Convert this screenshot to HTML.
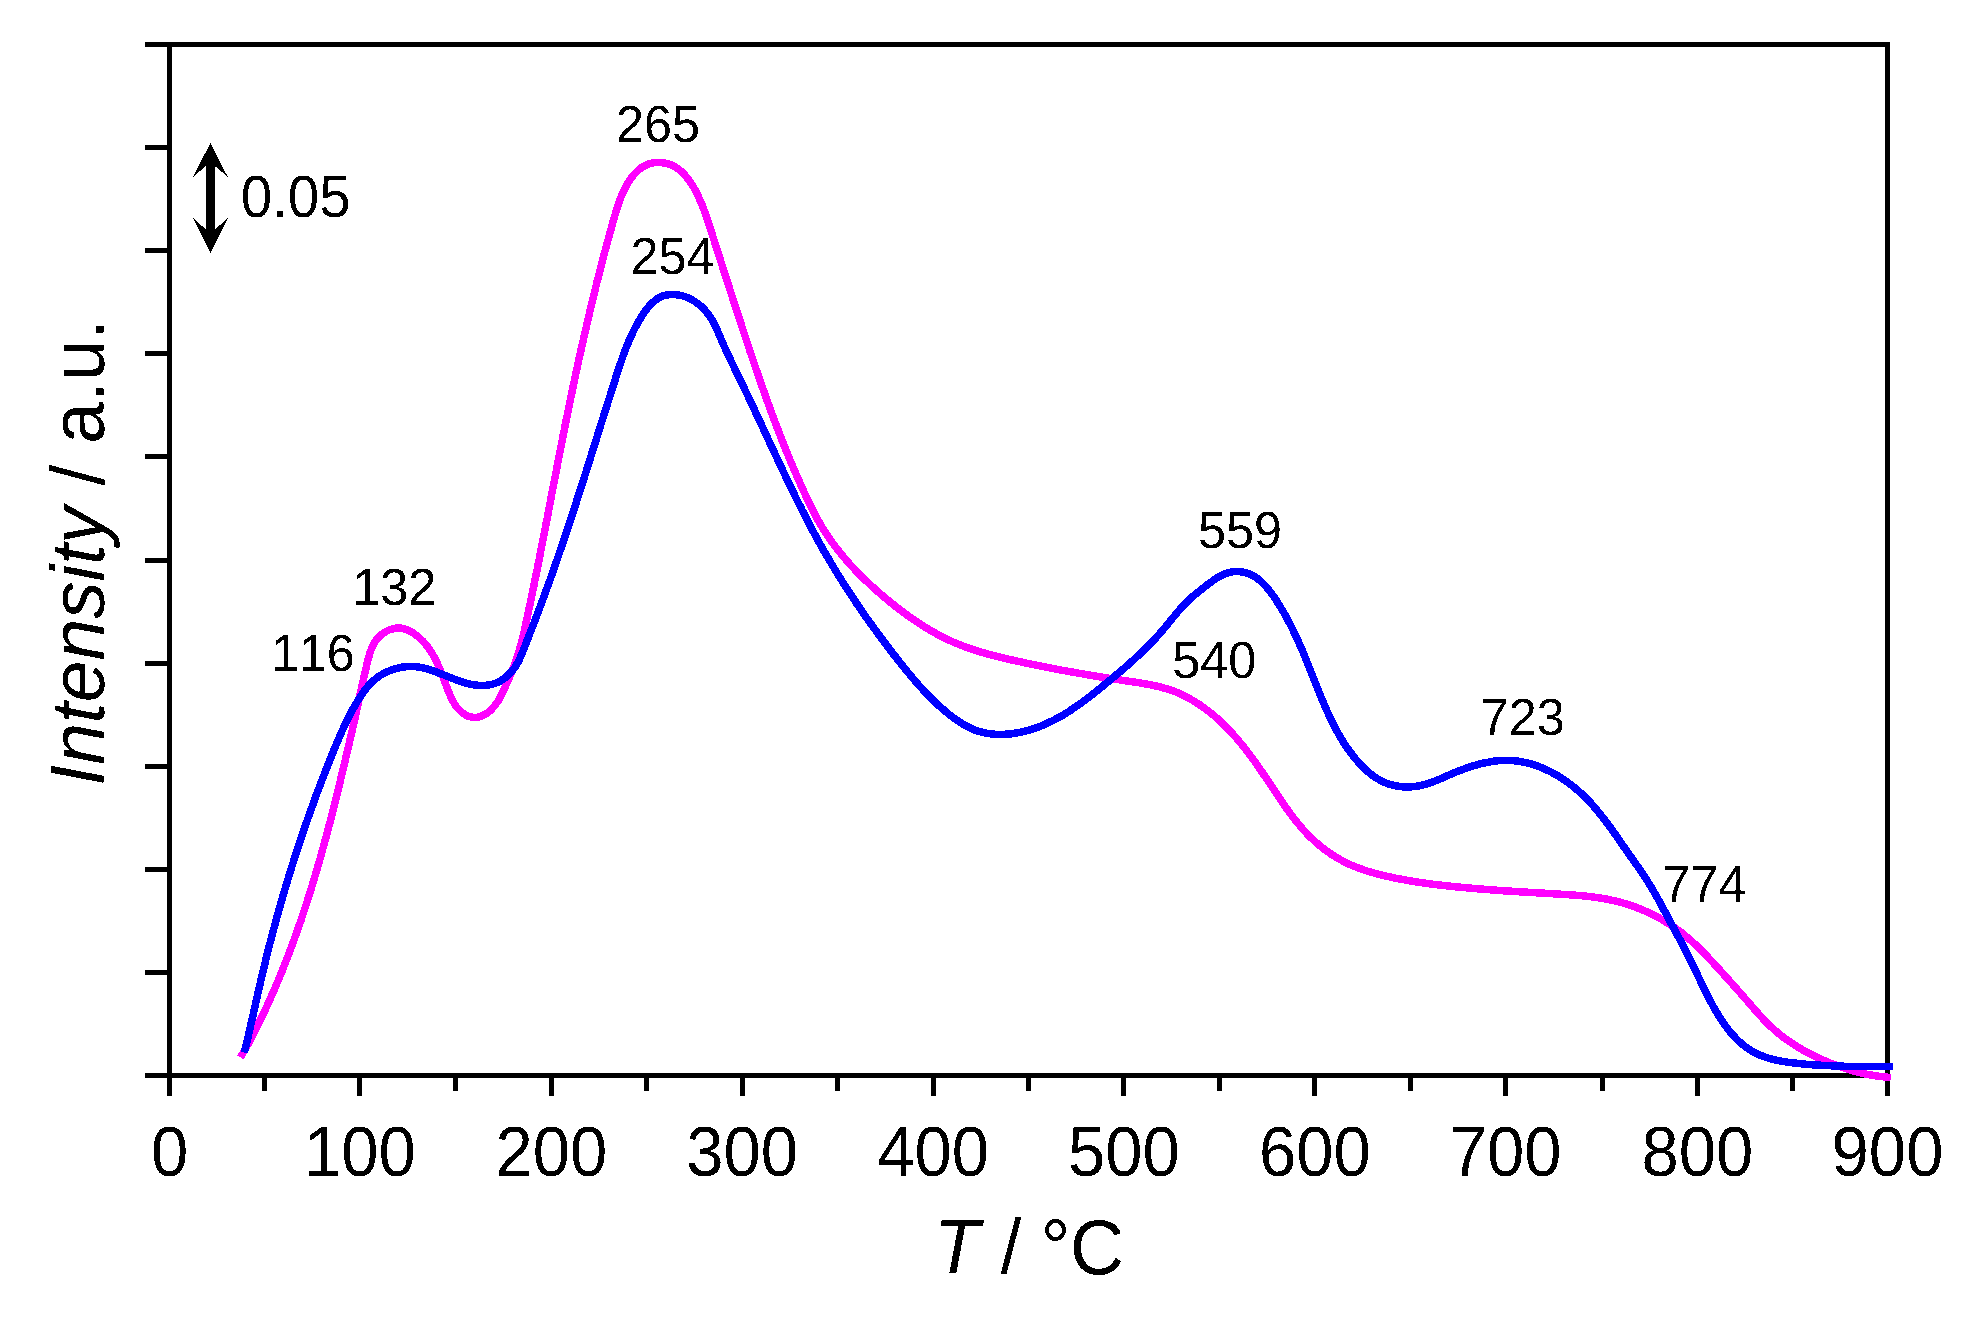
<!DOCTYPE html>
<html lang="en">
<head>
<meta charset="utf-8">
<title>TPD profile</title>
<style>
html,body{margin:0;padding:0;background:#fff;}
body{width:1979px;height:1328px;overflow:hidden;}
svg{display:block;}
</style>
</head>
<body>
<svg width="1979" height="1328" viewBox="0 0 1979 1328">
<defs><filter id="bin" x="-5%" y="-5%" width="110%" height="110%" color-interpolation-filters="sRGB"><feComponentTransfer><feFuncA type="discrete" tableValues="0 1"/></feComponentTransfer></filter></defs>
<rect width="1979" height="1328" fill="#fff"/>
<g fill="#000" shape-rendering="crispEdges">
<rect x="145" y="42" width="1745" height="5"/>
<rect x="145" y="1073" width="1745" height="5"/>
<rect x="167" y="42" width="5" height="1054"/>
<rect x="1885" y="42" width="5" height="1054"/>
<rect x="145" y="145" width="24" height="5"/>
<rect x="145" y="248" width="24" height="5"/>
<rect x="145" y="351" width="24" height="5"/>
<rect x="145" y="454" width="24" height="5"/>
<rect x="145" y="558" width="24" height="5"/>
<rect x="145" y="661" width="24" height="5"/>
<rect x="145" y="764" width="24" height="5"/>
<rect x="145" y="867" width="24" height="5"/>
<rect x="145" y="970" width="24" height="5"/>
<rect x="357" y="1075" width="5" height="21"/>
<rect x="549" y="1075" width="5" height="21"/>
<rect x="740" y="1075" width="5" height="21"/>
<rect x="931" y="1075" width="5" height="21"/>
<rect x="1121" y="1075" width="5" height="21"/>
<rect x="1312" y="1075" width="5" height="21"/>
<rect x="1503" y="1075" width="5" height="21"/>
<rect x="1695" y="1075" width="5" height="21"/>
<rect x="262" y="1075" width="5" height="16"/>
<rect x="453" y="1075" width="5" height="16"/>
<rect x="644" y="1075" width="5" height="16"/>
<rect x="835" y="1075" width="5" height="16"/>
<rect x="1026" y="1075" width="5" height="16"/>
<rect x="1217" y="1075" width="5" height="16"/>
<rect x="1408" y="1075" width="5" height="16"/>
<rect x="1600" y="1075" width="5" height="16"/>
<rect x="1790" y="1075" width="5" height="16"/>
</g>
<path d="M240.5 1057.4L241.8 1055.1L243.1 1052.8L244.5 1050.4L245.8 1048.1L247.1 1045.7L248.4 1043.4L249.6 1041.0L250.9 1038.7L252.2 1036.3L253.4 1033.9L254.6 1031.5L255.8 1029.2L257.0 1026.8L258.2 1024.4L259.4 1022.0L260.6 1019.6L261.7 1017.1L262.9 1014.7L264.0 1012.3L265.2 1009.9L266.3 1007.5L267.4 1005.0L268.5 1002.6L269.6 1000.1L270.7 997.7L271.8 995.2L272.9 992.8L274.0 990.3L275.0 987.9L276.1 985.4L277.1 982.9L278.2 980.5L279.2 978.0L280.2 975.5L281.2 973.0L282.3 970.5L283.3 968.0L284.2 965.6L285.2 963.1L286.2 960.6L287.2 958.1L288.2 955.5L289.1 953.0L290.1 950.5L291.0 948.0L292.0 945.5L292.9 943.0L293.8 940.5L294.7 937.9L295.6 935.4L296.5 932.9L297.4 930.3L298.3 927.8L299.2 925.3L300.1 922.7L301.0 920.2L301.8 917.6L302.7 915.1L303.5 912.6L304.4 910.0L305.2 907.5L306.0 904.9L306.9 902.4L307.7 899.8L308.5 897.2L309.3 894.7L310.1 892.1L310.9 889.6L311.7 887.0L312.5 884.4L313.3 881.9L314.0 879.3L314.8 876.7L315.6 874.2L316.3 871.6L317.1 869.0L317.8 866.4L318.6 863.9L319.3 861.3L320.1 858.7L320.8 856.1L321.5 853.5L322.2 851.0L322.9 848.4L323.7 845.8L324.4 843.2L325.1 840.6L325.8 838.0L326.5 835.4L327.2 832.9L327.8 830.3L328.5 827.7L329.2 825.1L329.9 822.5L330.6 819.9L331.2 817.3L331.9 814.7L332.6 812.1L333.2 809.5L333.9 806.9L334.5 804.3L335.2 801.7L335.8 799.1L336.5 796.5L337.1 793.9L337.8 791.3L338.4 788.7L339.0 786.1L339.7 783.5L340.3 780.9L340.9 778.3L341.5 775.7L342.2 773.0L342.8 770.4L343.4 767.8L344.0 765.2L344.7 762.6L345.3 760.0L345.9 757.4L346.5 754.8L347.1 752.2L347.7 749.5L348.4 746.9L349.0 744.3L349.6 741.7L350.2 739.1L350.8 736.5L351.4 733.9L352.0 731.2L352.6 728.6L353.2 726.0L353.8 723.4L354.4 720.8L355.0 718.2L355.6 715.6L356.1 712.9L356.7 710.3L357.3 707.7L357.9 705.1L358.4 702.5L359.0 699.9L359.6 697.2L360.1 694.6L360.7 692.0L361.2 689.4L361.8 686.8L362.4 684.2L362.9 681.6L363.5 678.9L364.1 676.3L364.7 673.7L365.3 671.1L365.9 668.5L366.5 665.9L367.1 663.4L367.7 661.0L368.3 658.6L369.0 656.2L369.7 653.8L370.5 651.2L371.5 648.7L372.5 646.3L373.7 643.9L375.1 641.6L376.7 639.5L378.3 637.6L380.1 635.8L382.1 634.1L384.1 632.7L386.3 631.4L388.5 630.2L391.0 629.3L393.6 628.6L396.1 628.1L398.7 628.0L401.3 628.2L403.8 628.7L406.3 629.5L408.8 630.6L411.0 631.7L413.2 633.0L415.2 634.5L417.3 636.0L419.2 637.7L421.0 639.4L422.8 641.1L424.6 643.1L426.3 645.2L428.0 647.3L429.5 649.5L431.0 651.7L432.4 654.0L433.8 656.4L435.0 658.7L436.3 661.1L437.4 663.5L438.5 666.0L439.6 668.4L440.6 670.9L441.6 673.3L442.6 675.8L443.5 678.2L444.4 680.7L445.3 683.2L446.3 685.7L447.1 688.0L448.0 690.4L449.0 692.8L450.0 695.1L451.0 697.5L452.1 699.8L453.4 702.0L454.7 704.2L456.1 706.3L457.7 708.3L459.4 710.1L461.2 711.8L463.2 713.4L465.4 714.8L467.8 716.0L470.2 716.8L472.7 717.3L475.3 717.5L478.0 717.2L480.4 716.6L482.8 715.6L485.2 714.3L487.3 712.9L489.3 711.4L491.2 709.6L492.9 707.8L494.6 705.8L496.1 703.8L497.6 701.7L498.9 699.6L500.1 697.4L501.3 695.2L502.4 692.9L503.5 690.6L504.5 688.3L505.6 686.0L506.6 683.7L507.6 681.4L508.7 679.0L509.8 676.5L510.8 674.1L511.9 671.6L512.9 669.1L513.9 666.7L514.8 664.2L515.7 661.7L516.6 659.1L517.4 656.6L518.2 654.1L519.0 651.5L519.7 648.9L520.4 646.4L521.1 643.8L521.8 641.2L522.4 638.6L523.0 636.0L523.7 633.4L524.3 630.8L524.8 628.2L525.4 625.5L526.0 622.9L526.6 620.3L527.1 617.7L527.7 615.0L528.3 612.4L528.8 609.8L529.4 607.2L529.9 604.5L530.5 601.9L531.0 599.3L531.6 596.7L532.1 594.0L532.7 591.4L533.2 588.8L533.8 586.1L534.3 583.5L534.8 580.9L535.4 578.3L535.9 575.6L536.4 573.0L537.0 570.4L537.5 567.7L538.0 565.1L538.5 562.5L539.1 559.8L539.6 557.2L540.1 554.6L540.6 551.9L541.1 549.3L541.6 546.7L542.2 544.0L542.7 541.4L543.2 538.8L543.7 536.1L544.2 533.5L544.7 530.8L545.2 528.2L545.7 525.6L546.2 522.9L546.8 520.3L547.3 517.7L547.8 515.0L548.3 512.4L548.8 509.8L549.3 507.1L549.8 504.5L550.3 501.9L550.8 499.2L551.3 496.6L551.8 493.9L552.3 491.3L552.8 488.7L553.3 486.0L553.8 483.4L554.3 480.8L554.9 478.1L555.4 475.5L555.9 472.9L556.4 470.2L556.9 467.6L557.4 465.0L557.9 462.3L558.4 459.7L558.9 457.1L559.4 454.4L559.9 451.8L560.5 449.2L561.0 446.5L561.5 443.9L562.0 441.3L562.5 438.6L563.0 436.0L563.6 433.4L564.1 430.8L564.6 428.1L565.1 425.5L565.7 422.9L566.2 420.2L566.7 417.6L567.3 415.0L567.8 412.4L568.3 409.7L568.9 407.1L569.4 404.5L569.9 401.8L570.5 399.2L571.0 396.6L571.6 394.0L572.1 391.4L572.7 388.7L573.2 386.1L573.8 383.5L574.3 380.9L574.9 378.2L575.4 375.6L576.0 373.0L576.6 370.4L577.1 367.8L577.7 365.1L578.3 362.5L578.8 359.9L579.4 357.3L580.0 354.7L580.6 352.1L581.1 349.4L581.7 346.8L582.3 344.2L582.9 341.6L583.5 339.0L584.1 336.4L584.7 333.7L585.3 331.1L585.9 328.5L586.5 325.9L587.1 323.3L587.7 320.7L588.3 318.1L588.9 315.5L589.5 312.9L590.1 310.2L590.8 307.6L591.4 305.0L592.0 302.4L592.6 299.8L593.3 297.2L593.9 294.6L594.6 292.0L595.2 289.4L595.8 286.8L596.5 284.2L597.1 281.6L597.8 279.0L598.5 276.4L599.1 273.8L599.8 271.2L600.4 268.6L601.1 266.0L601.8 263.4L602.5 260.8L603.1 258.2L603.8 255.6L604.5 253.0L605.2 250.4L605.9 247.8L606.6 245.2L607.3 242.6L608.0 240.0L608.7 237.4L609.4 234.8L610.1 232.2L610.9 229.6L611.6 227.0L612.3 224.4L613.0 221.9L613.8 219.3L614.5 216.9L615.2 214.3L616.0 211.7L616.8 209.1L617.6 206.6L618.4 204.0L619.3 201.5L620.2 199.0L621.2 196.5L622.3 194.0L623.3 191.6L624.5 189.2L625.7 186.9L627.0 184.5L628.4 182.2L629.9 180.0L631.4 177.9L632.9 175.9L634.5 174.0L636.4 172.1L638.3 170.2L640.3 168.5L642.5 167.0L644.7 165.7L647.1 164.6L649.6 163.7L652.2 163.0L654.7 162.6L657.2 162.4L659.7 162.5L662.3 162.7L664.8 163.1L667.3 163.7L669.7 164.4L672.2 165.4L674.5 166.6L676.7 168.0L678.9 169.5L680.9 171.2L682.8 173.0L684.7 174.9L686.4 176.9L688.1 179.0L689.6 181.0L691.0 183.1L692.4 185.3L693.7 187.4L694.9 189.6L696.1 191.9L697.2 194.1L698.3 196.4L699.4 198.8L700.5 201.3L701.6 203.7L702.6 206.2L703.5 208.7L704.5 211.2L705.4 213.7L706.3 216.3L707.1 218.8L708.0 221.3L708.8 223.9L709.6 226.4L710.4 229.0L711.3 231.5L712.1 234.0L712.9 236.6L713.7 239.1L714.5 241.7L715.3 244.3L716.2 246.8L717.0 249.4L717.8 251.9L718.6 254.5L719.4 257.0L720.3 259.6L721.1 262.1L721.9 264.7L722.7 267.2L723.5 269.8L724.4 272.3L725.2 274.9L726.0 277.5L726.8 280.0L727.6 282.6L728.5 285.1L729.3 287.7L730.1 290.2L730.9 292.8L731.8 295.4L732.6 297.9L733.4 300.5L734.3 303.0L735.1 305.6L735.9 308.1L736.7 310.7L737.6 313.2L738.4 315.8L739.2 318.3L740.1 320.9L740.9 323.5L741.7 326.0L742.6 328.6L743.4 331.1L744.2 333.7L745.1 336.2L745.9 338.7L746.8 341.3L747.6 343.8L748.5 346.4L749.3 348.9L750.1 351.5L751.0 354.0L751.9 356.6L752.7 359.1L753.6 361.6L754.4 364.2L755.3 366.7L756.1 369.3L757.0 371.8L757.9 374.3L758.8 376.9L759.6 379.4L760.5 381.9L761.4 384.5L762.3 387.0L763.2 389.5L764.1 392.0L765.0 394.6L765.9 397.1L766.8 399.6L767.7 402.1L768.6 404.6L769.5 407.2L770.4 409.7L771.3 412.2L772.3 414.7L773.2 417.2L774.1 419.7L775.1 422.2L776.0 424.7L777.0 427.2L778.0 429.7L778.9 432.2L779.9 434.7L780.9 437.2L781.8 439.7L782.8 442.2L783.8 444.7L784.8 447.2L785.8 449.7L786.8 452.2L787.8 454.7L788.9 457.1L789.9 459.6L790.9 462.1L792.0 464.6L793.0 467.0L794.1 469.5L795.1 472.0L796.2 474.4L797.3 476.9L798.4 479.4L799.5 481.8L800.6 484.3L801.7 486.7L802.8 489.2L803.8 491.5L804.9 493.7L805.9 496.0L807.0 498.3L808.1 500.5L809.1 502.8L810.2 505.0L811.3 507.3L812.4 509.5L813.5 511.8L814.7 514.0L815.9 516.4L817.2 518.7L818.5 521.1L819.9 523.4L821.2 525.7L822.6 528.0L824.0 530.3L825.5 532.5L826.9 534.8L828.4 537.0L829.9 539.2L831.5 541.4L833.0 543.5L834.6 545.7L836.2 547.8L837.9 549.9L839.5 552.0L841.2 554.1L842.9 556.1L844.6 558.2L846.4 560.2L848.1 562.2L849.9 564.2L851.7 566.2L853.6 568.2L855.4 570.1L857.2 572.0L859.1 574.0L861.0 575.9L862.9 577.7L864.8 579.6L866.8 581.5L868.7 583.3L870.7 585.2L872.7 587.0L874.5 588.7L876.4 590.3L878.3 592.0L880.2 593.6L882.1 595.3L884.0 596.9L885.9 598.5L887.8 600.1L889.8 601.7L891.7 603.3L893.7 604.8L895.6 606.4L897.6 607.9L899.6 609.5L901.6 611.0L903.6 612.5L905.6 614.0L907.6 615.4L909.7 616.9L911.7 618.3L913.9 619.9L916.1 621.4L918.4 622.9L920.6 624.3L922.9 625.8L925.2 627.2L927.5 628.6L929.8 630.0L932.1 631.3L934.4 632.6L936.7 633.9L939.1 635.2L941.5 636.4L943.8 637.6L946.2 638.8L948.6 640.0L951.1 641.1L953.5 642.2L956.0 643.2L958.4 644.2L960.9 645.2L963.4 646.2L965.9 647.1L968.4 648.0L970.9 648.9L973.5 649.7L976.0 650.5L978.6 651.3L981.1 652.1L983.7 652.9L986.3 653.6L988.9 654.3L991.5 655.0L994.1 655.7L996.7 656.3L999.3 657.0L1001.9 657.6L1004.5 658.3L1007.2 658.9L1009.8 659.5L1012.4 660.1L1015.0 660.7L1017.6 661.2L1020.3 661.8L1022.9 662.4L1025.5 663.0L1028.1 663.5L1030.8 664.1L1033.4 664.6L1036.0 665.2L1038.7 665.7L1041.3 666.2L1043.9 666.7L1046.5 667.3L1049.2 667.8L1051.8 668.3L1054.4 668.8L1057.1 669.3L1059.7 669.8L1062.3 670.3L1065.0 670.7L1067.6 671.2L1070.2 671.7L1072.9 672.2L1075.5 672.6L1078.1 673.1L1080.8 673.6L1083.4 674.0L1086.1 674.5L1088.7 674.9L1091.4 675.4L1094.0 675.8L1096.6 676.2L1099.3 676.7L1101.9 677.1L1104.6 677.5L1107.2 677.9L1109.9 678.4L1112.5 678.8L1115.2 679.2L1117.8 679.6L1120.5 680.0L1123.1 680.4L1125.8 680.8L1128.5 681.2L1131.1 681.6L1133.8 682.0L1136.4 682.4L1139.1 682.8L1141.7 683.3L1144.4 683.7L1147.0 684.2L1149.7 684.7L1152.3 685.2L1154.9 685.8L1157.5 686.3L1160.1 687.0L1162.7 687.7L1165.3 688.4L1167.8 689.2L1170.4 690.0L1172.9 690.9L1175.4 691.8L1177.9 692.9L1180.3 693.9L1182.6 695.0L1184.9 696.1L1187.1 697.3L1189.3 698.4L1191.5 699.7L1193.7 701.0L1195.8 702.3L1197.9 703.6L1200.0 705.0L1202.1 706.5L1204.1 707.9L1206.1 709.4L1208.3 711.0L1210.4 712.7L1212.5 714.4L1214.5 716.1L1216.5 717.8L1218.5 719.6L1220.5 721.4L1222.4 723.3L1224.3 725.1L1226.2 727.0L1228.1 728.9L1229.9 730.8L1231.7 732.8L1233.5 734.8L1235.3 736.7L1237.0 738.8L1238.7 740.8L1240.4 742.9L1242.1 744.9L1243.8 747.0L1245.4 749.1L1247.1 751.2L1248.7 753.4L1250.3 755.5L1251.9 757.7L1253.5 759.8L1255.1 762.0L1256.5 764.1L1258.0 766.1L1259.4 768.2L1260.8 770.2L1262.2 772.3L1263.6 774.4L1265.0 776.4L1266.4 778.5L1267.8 780.6L1269.2 782.7L1270.6 784.8L1272.0 786.9L1273.4 789.0L1274.8 791.1L1276.2 793.2L1277.6 795.3L1279.0 797.3L1280.4 799.4L1281.8 801.5L1283.2 803.6L1284.6 805.6L1286.2 807.8L1287.7 810.0L1289.3 812.2L1290.9 814.3L1292.5 816.5L1294.1 818.6L1295.8 820.7L1297.5 822.8L1299.2 824.8L1300.9 826.9L1302.6 828.9L1304.4 830.9L1306.2 832.8L1308.0 834.8L1309.9 836.6L1311.8 838.5L1313.7 840.3L1315.7 842.1L1317.7 843.9L1319.7 845.6L1321.8 847.3L1323.9 848.9L1326.0 850.5L1328.2 852.1L1330.4 853.6L1332.5 855.0L1334.7 856.3L1336.8 857.6L1339.0 858.9L1341.1 860.1L1343.4 861.3L1345.6 862.4L1347.8 863.5L1350.1 864.6L1352.6 865.7L1355.1 866.7L1357.6 867.7L1360.1 868.6L1362.6 869.5L1365.1 870.4L1367.7 871.2L1370.3 872.0L1372.8 872.7L1375.4 873.4L1378.0 874.1L1380.6 874.8L1383.2 875.4L1385.8 876.0L1388.5 876.6L1391.1 877.2L1393.7 877.8L1396.3 878.3L1399.0 878.8L1401.6 879.3L1404.2 879.8L1406.9 880.3L1409.5 880.8L1412.1 881.2L1414.8 881.6L1417.4 882.1L1420.1 882.5L1422.8 882.8L1425.4 883.2L1428.1 883.6L1430.7 883.9L1433.4 884.3L1436.0 884.6L1438.7 884.9L1441.4 885.2L1444.0 885.5L1446.7 885.8L1449.4 886.1L1452.0 886.4L1454.7 886.7L1457.4 886.9L1460.0 887.2L1462.7 887.4L1465.4 887.7L1468.1 887.9L1470.7 888.2L1473.4 888.4L1476.1 888.6L1478.7 888.9L1481.4 889.1L1484.1 889.3L1486.7 889.5L1489.4 889.7L1492.1 889.9L1494.8 890.1L1497.4 890.3L1500.1 890.5L1502.8 890.7L1505.4 890.9L1508.1 891.0L1510.8 891.2L1513.5 891.4L1516.1 891.6L1518.8 891.7L1521.5 891.9L1524.2 892.1L1526.9 892.2L1529.5 892.4L1532.2 892.5L1534.9 892.7L1537.6 892.9L1540.3 893.0L1542.9 893.2L1545.6 893.3L1548.3 893.5L1551.0 893.6L1553.7 893.8L1556.4 894.0L1559.0 894.1L1561.7 894.3L1564.4 894.4L1567.1 894.6L1569.8 894.8L1572.5 895.0L1575.1 895.2L1577.8 895.4L1580.5 895.6L1583.2 895.9L1585.8 896.2L1588.5 896.5L1591.2 896.8L1593.8 897.1L1596.5 897.5L1599.1 897.9L1601.8 898.3L1604.4 898.7L1607.0 899.2L1609.6 899.7L1612.2 900.3L1614.8 900.9L1617.4 901.5L1620.0 902.2L1622.6 902.9L1625.2 903.6L1627.7 904.4L1630.3 905.2L1632.8 906.1L1635.3 907.0L1637.8 908.0L1640.3 909.0L1642.8 910.0L1645.3 911.1L1647.7 912.2L1650.1 913.3L1652.6 914.5L1655.0 915.7L1657.3 917.0L1659.7 918.3L1662.0 919.6L1664.4 921.0L1666.6 922.4L1668.9 923.8L1671.2 925.3L1673.4 926.8L1675.6 928.3L1677.8 929.9L1679.9 931.5L1682.1 933.1L1684.2 934.8L1686.2 936.5L1688.3 938.2L1690.3 940.0L1692.3 941.8L1694.3 943.6L1696.2 945.4L1698.2 947.3L1700.1 949.2L1702.0 951.1L1703.9 953.0L1705.7 954.9L1707.6 956.8L1709.4 958.8L1711.3 960.8L1713.1 962.7L1714.9 964.7L1716.7 966.7L1718.5 968.6L1720.3 970.6L1722.1 972.6L1723.9 974.6L1725.7 976.6L1727.5 978.6L1729.3 980.6L1731.1 982.6L1732.9 984.6L1734.7 986.6L1736.5 988.6L1738.2 990.6L1740.0 992.6L1741.8 994.7L1743.5 996.7L1745.3 998.7L1747.1 1000.7L1748.8 1002.8L1750.6 1004.8L1752.3 1006.8L1754.1 1008.8L1755.9 1010.9L1757.7 1012.9L1759.4 1014.9L1761.3 1016.8L1763.1 1018.8L1764.9 1020.7L1766.8 1022.6L1768.7 1024.5L1770.6 1026.4L1772.6 1028.2L1774.6 1030.0L1776.6 1031.7L1778.6 1033.5L1780.7 1035.1L1782.8 1036.8L1784.9 1038.4L1787.1 1040.0L1789.3 1041.5L1791.5 1043.0L1793.8 1044.5L1796.0 1045.9L1798.3 1047.3L1800.6 1048.7L1803.0 1050.1L1805.1 1051.3L1807.3 1052.5L1809.6 1053.6L1811.8 1054.8L1814.0 1055.9L1816.3 1057.0L1818.6 1058.0L1820.8 1059.1L1823.1 1060.1L1825.6 1061.1L1828.1 1062.2L1830.6 1063.2L1833.1 1064.1L1835.6 1065.1L1838.1 1066.0L1840.6 1066.9L1843.2 1067.7L1845.7 1068.6L1848.2 1069.4L1850.8 1070.1L1853.3 1070.9L1855.9 1071.6L1858.5 1072.3L1861.1 1072.9L1863.7 1073.5L1866.3 1074.1L1868.9 1074.6L1871.5 1075.1L1874.2 1075.5L1876.8 1076.0L1879.5 1076.3L1882.0 1076.7L1884.5 1076.9L1887.0 1077.2L1889.5 1077.4L1890.7 1077.5" fill="none" stroke="#ff00ff" stroke-width="7.5" stroke-linecap="butt" stroke-linejoin="round" shape-rendering="crispEdges"/>
<path d="M244.4 1052.5L245.0 1050.0L245.6 1047.5L246.2 1045.0L246.8 1042.5L247.4 1040.0L248.0 1037.4L248.6 1034.9L249.1 1032.4L249.7 1029.9L250.3 1027.4L250.8 1024.9L251.4 1022.3L252.0 1019.8L252.5 1017.3L253.1 1014.8L253.7 1012.3L254.2 1009.7L254.8 1007.2L255.3 1004.7L255.9 1002.2L256.5 999.6L257.0 997.1L257.6 994.6L258.2 992.1L258.7 989.5L259.3 987.0L259.9 984.5L260.5 982.0L261.1 979.5L261.7 976.9L262.3 974.4L262.8 971.9L263.5 969.4L264.1 966.9L264.7 964.4L265.3 961.9L265.9 959.4L266.5 956.9L267.1 954.4L267.8 951.8L268.4 949.3L269.0 946.8L269.7 944.3L270.3 941.8L271.0 939.4L271.6 936.9L272.3 934.4L272.9 931.9L273.6 929.4L274.3 926.9L275.0 924.4L275.6 921.9L276.3 919.4L277.0 916.9L277.7 914.5L278.4 912.0L279.1 909.5L279.8 907.0L280.5 904.5L281.2 902.0L281.9 899.6L282.6 897.1L283.3 894.6L284.1 892.2L284.8 889.7L285.5 887.2L286.3 884.7L287.0 882.3L287.8 879.8L288.5 877.3L289.3 874.9L290.0 872.4L290.8 869.9L291.6 867.5L292.3 865.0L293.1 862.6L293.9 860.1L294.7 857.7L295.5 855.2L296.3 852.8L297.1 850.3L297.9 847.9L298.7 845.4L299.5 843.0L300.3 840.5L301.1 838.1L301.9 835.6L302.8 833.2L303.6 830.7L304.4 828.3L305.3 825.9L306.1 823.4L307.0 821.0L307.8 818.5L308.7 816.1L309.6 813.7L310.4 811.2L311.3 808.8L312.2 806.4L313.1 803.9L313.9 801.5L314.8 799.1L315.7 796.7L316.6 794.2L317.5 791.8L318.4 789.4L319.4 787.0L320.3 784.6L321.2 782.1L322.1 779.7L323.1 777.3L324.0 774.9L324.9 772.5L325.9 770.1L326.8 767.7L327.8 765.3L328.8 762.8L329.7 760.4L330.7 758.0L331.7 755.6L332.6 753.2L333.6 750.8L334.6 748.4L335.6 746.0L336.6 743.6L337.6 741.2L338.6 738.9L339.7 736.5L340.7 734.1L341.7 731.7L342.8 729.4L343.9 727.0L345.0 724.7L346.1 722.3L347.2 720.0L348.4 717.7L349.5 715.4L350.7 713.1L351.9 710.9L353.2 708.6L354.4 706.4L355.7 704.2L357.0 702.0L358.3 699.8L359.7 697.6L361.1 695.5L362.5 693.4L364.0 691.3L365.5 689.3L367.1 687.3L368.7 685.4L370.5 683.5L372.3 681.7L374.2 680.0L376.2 678.4L378.3 676.8L380.4 675.4L382.7 674.0L385.0 672.8L387.4 671.6L389.9 670.6L392.4 669.7L394.9 668.9L397.5 668.2L400.1 667.6L402.6 667.1L405.2 666.8L407.8 666.6L410.4 666.5L412.9 666.6L415.5 666.7L418.0 667.0L420.5 667.4L422.9 667.9L425.4 668.5L427.8 669.2L430.3 669.9L432.7 670.7L435.1 671.6L437.5 672.5L439.9 673.4L442.3 674.4L444.8 675.3L447.2 676.3L449.6 677.3L452.0 678.3L454.4 679.2L456.9 680.1L459.3 681.0L461.8 681.8L464.3 682.6L466.8 683.3L469.3 683.9L471.8 684.4L474.4 684.9L476.9 685.2L479.5 685.4L482.0 685.5L484.5 685.4L487.0 685.2L489.6 684.8L492.2 684.3L494.6 683.5L497.0 682.6L499.3 681.5L501.6 680.1L503.8 678.7L505.9 677.0L507.8 675.4L509.6 673.6L511.3 671.8L513.1 669.7L514.7 667.6L516.1 665.4L517.5 663.2L518.7 660.9L519.8 658.6L520.8 656.3L521.8 654.0L522.8 651.6L523.7 649.3L524.6 646.9L525.6 644.5L526.5 642.2L527.4 639.8L528.4 637.4L529.3 635.0L530.2 632.6L531.2 630.2L532.1 627.8L533.0 625.4L534.0 623.0L534.9 620.6L535.8 618.2L536.7 615.8L537.6 613.3L538.6 610.9L539.5 608.5L540.4 606.1L541.3 603.7L542.2 601.2L543.1 598.8L544.0 596.4L544.9 594.0L545.8 591.5L546.6 589.1L547.5 586.7L548.4 584.2L549.3 581.8L550.2 579.4L551.0 576.9L551.9 574.5L552.7 572.1L553.6 569.6L554.5 567.2L555.3 564.7L556.2 562.3L557.0 559.9L557.9 557.4L558.7 555.0L559.5 552.5L560.4 550.1L561.2 547.6L562.0 545.2L562.9 542.7L563.7 540.3L564.5 537.9L565.3 535.4L566.2 533.0L567.0 530.5L567.8 528.1L568.6 525.6L569.4 523.1L570.2 520.7L571.0 518.2L571.8 515.8L572.7 513.3L573.5 510.9L574.3 508.4L575.1 506.0L575.9 503.5L576.6 501.1L577.4 498.6L578.2 496.1L579.0 493.7L579.8 491.2L580.6 488.8L581.4 486.3L582.2 483.9L583.0 481.4L583.8 478.9L584.5 476.5L585.3 474.0L586.1 471.6L586.9 469.1L587.7 466.6L588.4 464.2L589.2 461.7L590.0 459.3L590.8 456.8L591.5 454.3L592.3 451.9L593.1 449.4L593.9 447.0L594.6 444.5L595.4 442.0L596.2 439.6L597.0 437.1L597.7 434.7L598.5 432.2L599.3 429.7L600.1 427.3L600.8 424.8L601.6 422.3L602.4 419.9L603.2 417.4L603.9 415.0L604.7 412.5L605.5 410.0L606.3 407.6L607.1 405.1L607.8 402.7L608.6 400.2L609.4 397.8L610.2 395.3L610.9 392.8L611.7 390.4L612.5 387.9L613.3 385.5L614.1 383.0L614.9 380.6L615.6 378.1L616.4 375.6L617.2 373.2L618.0 370.7L618.8 368.3L619.6 365.8L620.5 363.4L621.3 361.0L622.2 358.5L623.0 356.1L623.9 353.7L624.8 351.3L625.7 348.9L626.7 346.5L627.7 344.1L628.6 341.7L629.7 339.3L630.7 337.0L631.8 334.6L632.9 332.3L634.0 330.0L635.2 327.7L636.4 325.4L637.7 323.1L639.0 320.8L640.3 318.6L641.7 316.3L643.1 314.1L644.6 312.0L646.1 309.9L647.7 307.8L649.4 305.9L651.2 304.0L653.0 302.2L654.9 300.6L656.9 299.0L659.0 297.7L661.3 296.6L663.6 295.7L666.1 295.1L668.7 294.7L671.3 294.5L673.9 294.5L676.5 294.8L679.2 295.2L681.8 295.7L684.3 296.4L686.8 297.3L689.2 298.3L691.5 299.5L693.7 300.8L695.8 302.2L697.9 303.7L699.9 305.3L701.8 307.0L703.6 308.8L705.4 310.7L707.0 312.7L708.6 314.7L710.1 316.8L711.5 319.0L712.8 321.2L714.0 323.5L715.2 325.8L716.3 328.1L717.4 330.5L718.4 332.9L719.4 335.2L720.4 337.6L721.5 340.0L722.5 342.4L723.5 344.8L724.6 347.1L725.7 349.5L726.7 351.8L727.8 354.2L728.9 356.5L730.0 358.8L731.1 361.1L732.2 363.5L733.4 365.8L734.5 368.1L735.6 370.4L736.8 372.7L737.9 375.0L739.0 377.4L740.1 379.7L741.3 382.0L742.4 384.3L743.5 386.6L744.6 389.0L745.7 391.3L746.8 393.6L747.9 395.9L749.0 398.3L750.1 400.6L751.3 402.9L752.3 405.3L753.4 407.6L754.5 409.9L755.6 412.3L756.7 414.6L757.8 417.0L758.9 419.3L760.0 421.7L761.1 424.0L762.2 426.3L763.3 428.7L764.4 431.0L765.4 433.4L766.5 435.7L767.6 438.1L768.7 440.4L769.8 442.8L770.9 445.1L772.0 447.4L773.1 449.8L774.2 452.1L775.3 454.5L776.4 456.8L777.5 459.2L778.6 461.5L779.7 463.8L780.8 466.2L781.9 468.5L783.0 470.9L784.1 473.2L785.2 475.5L786.3 477.9L787.4 480.2L788.5 482.5L789.6 484.8L790.8 487.2L791.9 489.5L793.0 491.8L794.2 494.1L795.3 496.5L796.4 498.8L797.6 501.1L798.7 503.4L799.9 505.7L801.1 508.0L802.2 510.3L803.4 512.6L804.6 514.9L805.7 517.2L806.9 519.5L808.1 521.8L809.3 524.1L810.5 526.4L811.7 528.6L812.9 530.9L814.1 533.2L815.4 535.4L816.6 537.7L817.8 540.0L819.1 542.2L820.3 544.5L821.6 546.7L822.8 549.0L824.1 551.2L825.4 553.4L826.7 555.7L828.0 557.9L829.3 560.1L830.6 562.3L831.9 564.5L833.2 566.7L834.5 568.9L835.9 571.1L837.2 573.3L838.6 575.5L839.9 577.7L841.3 579.9L842.7 582.1L844.1 584.2L845.4 586.4L846.8 588.6L848.2 590.7L849.7 592.9L851.1 595.1L852.5 597.2L853.9 599.4L855.4 601.5L856.8 603.7L858.3 605.8L859.7 607.9L861.2 610.1L862.7 612.2L864.2 614.3L865.6 616.5L867.1 618.6L868.6 620.7L870.1 622.8L871.7 624.9L873.2 627.0L874.7 629.1L876.2 631.2L877.7 633.3L879.3 635.4L880.8 637.5L882.4 639.6L883.9 641.6L885.5 643.7L887.0 645.8L888.6 647.8L890.2 649.9L891.7 651.9L893.3 654.0L894.9 656.0L896.5 658.0L898.1 660.1L899.7 662.1L901.2 664.1L902.8 666.1L904.5 668.1L906.1 670.1L907.7 672.1L909.3 674.0L911.0 676.0L912.6 678.0L914.3 679.9L915.9 681.9L917.6 683.8L919.3 685.7L921.0 687.6L922.8 689.5L924.5 691.4L926.3 693.2L928.1 695.1L929.9 696.9L931.7 698.7L933.5 700.5L935.4 702.3L937.3 704.1L939.2 705.9L941.1 707.6L943.1 709.3L945.1 711.0L947.1 712.7L949.1 714.4L951.2 716.0L953.3 717.6L955.4 719.2L957.6 720.7L959.8 722.2L962.0 723.6L964.2 724.9L966.5 726.2L968.8 727.3L971.1 728.4L973.5 729.5L975.8 730.4L978.3 731.2L980.7 731.9L983.2 732.5L985.7 733.1L988.2 733.5L990.7 733.9L993.2 734.1L995.8 734.3L998.4 734.4L1000.9 734.4L1003.5 734.4L1006.1 734.2L1008.7 734.0L1011.2 733.8L1013.8 733.4L1016.4 733.0L1018.9 732.5L1021.5 732.0L1024.0 731.4L1026.5 730.8L1029.0 730.1L1031.5 729.4L1033.9 728.6L1036.4 727.7L1038.8 726.8L1041.2 725.9L1043.5 724.9L1045.9 723.9L1048.2 722.8L1050.5 721.7L1052.8 720.6L1055.1 719.4L1057.4 718.2L1059.6 717.0L1061.9 715.7L1064.1 714.4L1066.3 713.0L1068.5 711.7L1070.6 710.3L1072.8 708.8L1074.9 707.4L1077.1 705.9L1079.2 704.4L1081.3 702.9L1083.4 701.4L1085.5 699.8L1087.5 698.3L1089.6 696.7L1091.7 695.1L1093.7 693.5L1095.8 691.9L1097.8 690.2L1099.8 688.6L1101.8 686.9L1103.8 685.3L1105.8 683.6L1107.8 682.0L1109.8 680.3L1111.8 678.7L1113.8 677.0L1115.8 675.3L1117.7 673.7L1119.7 672.0L1121.7 670.3L1123.6 668.7L1125.6 667.0L1127.5 665.3L1129.4 663.6L1131.3 661.9L1133.2 660.2L1135.1 658.5L1137.0 656.7L1138.9 655.0L1140.8 653.3L1142.6 651.5L1144.5 649.7L1146.3 647.9L1148.1 646.1L1149.9 644.3L1151.7 642.4L1153.4 640.5L1155.2 638.7L1156.9 636.7L1158.7 634.8L1160.4 632.9L1162.1 630.9L1163.7 628.9L1165.4 626.9L1167.1 624.9L1168.7 622.8L1170.4 620.8L1172.0 618.8L1173.7 616.8L1175.3 614.8L1177.0 612.8L1178.7 610.8L1180.4 608.9L1182.1 607.0L1183.9 605.1L1185.6 603.2L1187.4 601.4L1189.2 599.7L1191.1 598.0L1193.0 596.3L1194.9 594.7L1196.8 593.1L1198.8 591.5L1200.8 589.9L1202.8 588.3L1204.9 586.7L1207.0 585.1L1209.1 583.4L1211.3 581.9L1213.5 580.3L1215.7 578.8L1217.9 577.4L1220.2 576.1L1222.6 574.9L1224.9 573.9L1227.3 573.0L1229.8 572.3L1232.3 571.8L1234.9 571.6L1237.4 571.5L1240.0 571.7L1242.5 572.0L1245.0 572.6L1247.5 573.3L1249.8 574.2L1252.2 575.3L1254.5 576.6L1256.6 578.0L1258.6 579.5L1260.6 581.2L1262.5 582.9L1264.3 584.7L1266.0 586.6L1267.8 588.6L1269.4 590.7L1271.0 592.8L1272.6 594.9L1274.1 597.1L1275.6 599.3L1277.0 601.6L1278.5 603.8L1279.9 606.0L1281.2 608.3L1282.6 610.5L1283.9 612.8L1285.2 615.0L1286.4 617.3L1287.7 619.6L1288.9 621.9L1290.1 624.2L1291.2 626.5L1292.4 628.8L1293.5 631.1L1294.6 633.4L1295.7 635.7L1296.8 638.1L1297.9 640.4L1298.9 642.7L1299.9 645.1L1301.0 647.4L1302.0 649.8L1303.0 652.1L1304.0 654.5L1304.9 656.9L1305.9 659.2L1306.9 661.6L1307.8 664.0L1308.8 666.4L1309.7 668.8L1310.7 671.1L1311.6 673.5L1312.6 675.9L1313.5 678.3L1314.5 680.7L1315.4 683.1L1316.4 685.5L1317.3 687.9L1318.3 690.3L1319.3 692.7L1320.3 695.1L1321.2 697.5L1322.2 699.9L1323.2 702.3L1324.3 704.7L1325.3 707.1L1326.3 709.5L1327.4 711.8L1328.5 714.2L1329.6 716.5L1330.7 718.9L1331.8 721.2L1332.9 723.5L1334.1 725.8L1335.3 728.1L1336.5 730.3L1337.8 732.6L1339.0 734.8L1340.3 737.1L1341.7 739.3L1343.0 741.5L1344.4 743.6L1345.8 745.8L1347.2 747.9L1348.7 750.0L1350.2 752.1L1351.8 754.1L1353.4 756.2L1355.0 758.2L1356.6 760.2L1358.3 762.1L1360.1 764.1L1361.9 765.9L1363.7 767.8L1365.6 769.6L1367.5 771.3L1369.5 773.0L1371.5 774.6L1373.5 776.1L1375.7 777.6L1377.8 778.9L1380.1 780.2L1382.4 781.4L1384.7 782.5L1387.1 783.4L1389.6 784.3L1392.1 785.0L1394.7 785.6L1397.3 786.1L1399.9 786.5L1402.5 786.8L1405.1 787.0L1407.7 787.0L1410.3 786.9L1412.8 786.7L1415.3 786.4L1417.8 786.0L1420.3 785.6L1422.7 785.0L1425.2 784.3L1427.6 783.6L1430.0 782.8L1432.3 782.0L1434.7 781.1L1437.1 780.1L1439.4 779.2L1441.8 778.2L1444.2 777.2L1446.5 776.1L1448.9 775.1L1451.3 774.1L1453.7 773.0L1456.1 772.0L1458.6 771.1L1461.0 770.1L1463.5 769.2L1465.9 768.3L1468.4 767.4L1470.9 766.6L1473.5 765.8L1476.0 765.1L1478.5 764.4L1481.0 763.7L1483.6 763.1L1486.1 762.6L1488.7 762.1L1491.2 761.6L1493.8 761.2L1496.3 760.9L1498.9 760.7L1501.4 760.5L1504.0 760.4L1506.5 760.4L1509.1 760.4L1511.6 760.5L1514.1 760.7L1516.7 761.0L1519.2 761.4L1521.7 761.8L1524.2 762.3L1526.6 762.8L1529.1 763.4L1531.6 764.1L1534.0 764.9L1536.4 765.7L1538.8 766.6L1541.2 767.5L1543.6 768.5L1546.0 769.6L1548.3 770.7L1550.6 771.8L1552.9 773.1L1555.2 774.3L1557.4 775.6L1559.7 777.0L1561.9 778.4L1564.1 779.8L1566.2 781.3L1568.3 782.8L1570.4 784.4L1572.5 786.0L1574.5 787.6L1576.5 789.3L1578.5 791.0L1580.5 792.8L1582.4 794.5L1584.2 796.3L1586.1 798.1L1587.9 800.0L1589.7 801.8L1591.4 803.7L1593.1 805.6L1594.8 807.6L1596.5 809.5L1598.1 811.5L1599.7 813.5L1601.3 815.5L1602.9 817.5L1604.5 819.6L1606.0 821.6L1607.6 823.7L1609.1 825.7L1610.6 827.8L1612.1 829.9L1613.6 832.0L1615.1 834.1L1616.5 836.2L1618.0 838.3L1619.5 840.5L1620.9 842.6L1622.4 844.7L1623.9 846.8L1625.4 849.0L1626.9 851.1L1628.3 853.2L1629.8 855.3L1631.3 857.4L1632.8 859.5L1634.3 861.7L1635.8 863.8L1637.3 865.9L1638.8 868.0L1640.2 870.2L1641.7 872.3L1643.1 874.4L1644.5 876.6L1645.9 878.8L1647.3 880.9L1648.7 883.1L1650.0 885.3L1651.4 887.5L1652.7 889.7L1654.0 891.9L1655.2 894.2L1656.5 896.4L1657.8 898.6L1659.0 900.9L1660.3 903.1L1661.5 905.4L1662.7 907.7L1663.9 909.9L1665.2 912.2L1666.4 914.5L1667.6 916.8L1668.8 919.0L1670.0 921.3L1671.3 923.6L1672.5 925.9L1673.7 928.2L1675.0 930.5L1676.2 932.8L1677.4 935.1L1678.7 937.4L1679.9 939.7L1681.1 941.9L1682.3 944.2L1683.5 946.5L1684.7 948.8L1685.9 951.1L1687.1 953.4L1688.2 955.7L1689.4 958.0L1690.5 960.3L1691.7 962.6L1692.8 964.9L1693.9 967.2L1695.0 969.5L1696.1 971.8L1697.1 974.0L1698.2 976.3L1699.3 978.6L1700.4 980.9L1701.5 983.2L1702.6 985.5L1703.7 987.8L1704.8 990.1L1706.0 992.4L1707.1 994.7L1708.3 997.0L1709.5 999.3L1710.7 1001.6L1712.0 1004.0L1713.2 1006.3L1714.5 1008.6L1715.8 1010.9L1717.2 1013.1L1718.6 1015.4L1720.0 1017.7L1721.4 1019.9L1722.9 1022.1L1724.4 1024.2L1725.9 1026.4L1727.5 1028.5L1729.1 1030.5L1730.7 1032.5L1732.4 1034.5L1734.2 1036.4L1735.9 1038.3L1737.7 1040.1L1739.6 1041.9L1741.5 1043.6L1743.4 1045.2L1745.4 1046.7L1747.5 1048.2L1749.6 1049.6L1751.7 1050.9L1753.9 1052.2L1756.1 1053.4L1758.4 1054.4L1760.8 1055.4L1763.1 1056.3L1765.5 1057.2L1768.0 1058.0L1770.5 1058.7L1773.0 1059.4L1775.5 1060.0L1778.1 1060.5L1780.7 1061.0L1783.2 1061.5L1785.8 1061.9L1788.4 1062.3L1791.0 1062.6L1793.6 1062.9L1796.2 1063.2L1798.8 1063.5L1801.4 1063.8L1804.0 1064.0L1806.5 1064.3L1809.1 1064.5L1811.6 1064.7L1814.2 1064.9L1816.7 1065.0L1819.3 1065.2L1821.9 1065.3L1824.4 1065.5L1827.0 1065.6L1829.5 1065.7L1832.1 1065.8L1834.7 1065.9L1837.3 1066.0L1839.8 1066.1L1842.4 1066.2L1845.0 1066.3L1847.6 1066.4L1850.2 1066.4L1852.8 1066.5L1855.4 1066.5L1858.0 1066.6L1860.6 1066.6L1863.1 1066.6L1865.7 1066.6L1868.3 1066.7L1870.9 1066.7L1873.5 1066.7L1876.1 1066.7L1878.7 1066.7L1881.2 1066.7L1883.8 1066.6L1886.4 1066.6L1889.0 1066.6L1891.5 1066.6L1892.6 1066.6" fill="none" stroke="#0000ff" stroke-width="7.5" stroke-linecap="butt" stroke-linejoin="round" shape-rendering="crispEdges"/>
<path d="M210.4 143L227.8 177L214.9 166L214.9 229.5L227.8 218L210.4 252.8L193 218L206 229.5L206 166L193 177Z" fill="#000" shape-rendering="crispEdges"/>
<g font-family="'Liberation Sans', sans-serif" fill="#000" style="font-kerning:none" font-kerning="none" filter="url(#bin)">
<text transform="translate(169.5 1176.0) scale(1 1.04)" font-size="67" text-anchor="middle">0</text>
<text transform="translate(359.8 1176.0) scale(1 1.04)" font-size="67" text-anchor="middle">100</text>
<text transform="translate(551.3 1176.0) scale(1 1.04)" font-size="67" text-anchor="middle">200</text>
<text transform="translate(742.2 1176.0) scale(1 1.04)" font-size="67" text-anchor="middle">300</text>
<text transform="translate(933.1 1176.0) scale(1 1.04)" font-size="67" text-anchor="middle">400</text>
<text transform="translate(1123.9 1176.0) scale(1 1.04)" font-size="67" text-anchor="middle">500</text>
<text transform="translate(1314.8 1176.0) scale(1 1.04)" font-size="67" text-anchor="middle">600</text>
<text transform="translate(1505.7 1176.0) scale(1 1.04)" font-size="67" text-anchor="middle">700</text>
<text transform="translate(1697.4 1176.0) scale(1 1.04)" font-size="67" text-anchor="middle">800</text>
<text transform="translate(1887.5 1176.0) scale(1 1.04)" font-size="67" text-anchor="middle">900</text>
<text transform="translate(1029.0 1273.7) scale(1 1.04)" font-size="75" text-anchor="middle"><tspan font-style="italic">T</tspan> / <tspan dx="-1.6">°</tspan><tspan dx="-0.6">C</tspan></text>
<text transform="translate(104.0 552.3) rotate(-90) scale(1 1.02)" font-size="75" text-anchor="middle"><tspan font-style="italic">Intensity</tspan> / a.u.</text>
<text transform="translate(240.7 216.7) scale(1 1.04)" font-size="56.5" text-anchor="start">0.05</text>
<text transform="translate(270.9 670.9) scale(1 1.04)" font-size="50.3" text-anchor="start">116</text>
<text transform="translate(352.4 605.2) scale(1 1.04)" font-size="50.3" text-anchor="start">132</text>
<text transform="translate(616.0 142.0) scale(1 1.04)" font-size="50.3" text-anchor="start">265</text>
<text transform="translate(630.5 274.4) scale(1 1.04)" font-size="50.3" text-anchor="start">254</text>
<text transform="translate(1198.0 547.6) scale(1 1.04)" font-size="50.3" text-anchor="start">559</text>
<text transform="translate(1172.2 677.8) scale(1 1.04)" font-size="50.3" text-anchor="start">540</text>
<text transform="translate(1480.8 735.0) scale(1 1.04)" font-size="50.3" text-anchor="start">723</text>
<text transform="translate(1662.5 902.0) scale(1 1.04)" font-size="50.3" text-anchor="start">774</text>
</g>
</svg>
</body>
</html>
